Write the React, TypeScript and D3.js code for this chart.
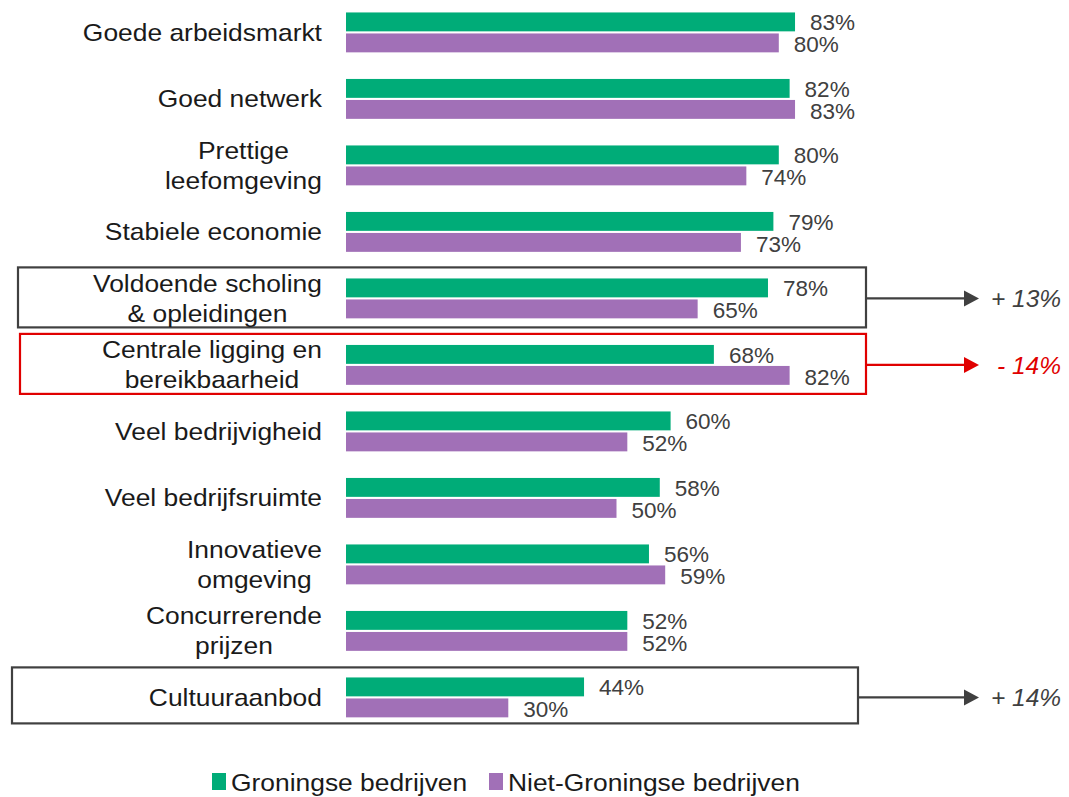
import React, { useEffect, useRef } from "react";
import * as d3 from "d3";

const categories: string[][] = [
  ["Goede arbeidsmarkt"],
  ["Goed netwerk"],
  ["Prettige", "leefomgeving"],
  ["Stabiele economie"],
  ["Voldoende scholing", "& opleidingen"],
  ["Centrale ligging en", "bereikbaarheid"],
  ["Veel bedrijvigheid"],
  ["Veel bedrijfsruimte"],
  ["Innovatieve", "omgeving"],
  ["Concurrerende", "prijzen"],
  ["Cultuuraanbod"],
];
const groningen = [83, 82, 80, 79, 78, 68, 60, 58, 56, 52, 44];
const nietGroningen = [80, 83, 74, 73, 65, 82, 52, 50, 59, 52, 30];
const seriesNames = ["Groningse bedrijven", "Niet-Groningse bedrijven"];
const seriesColors = ["#00AC78", "#A170B7"];

// highlighted boxes: category index, difference label
const highlights = [
  { idx: 4, label: "+ 13%", color: "#404040", x0: 18, x1: 866 },
  { idx: 5, label: "- 14%", color: "#E00000", x0: 20, x1: 866 },
  { idx: 10, label: "+ 14%", color: "#404040", x0: 12, x1: 858 },
];

const FONT = "Liberation Sans, Arial, sans-serif";
const STRETCH = 1.1;

export default function App() {
  const ref = useRef<SVGSVGElement>(null);
  useEffect(() => {
    const svg = d3.select(ref.current);
    svg.selectAll("*").remove();
    const keys = categories.map((_, i) => String(i));
    const y = d3
      .scaleBand<string>()
      .domain(keys)
      .range([-7.5, 737.3])
      .paddingInner(0.4)
      .paddingOuter(0.3);
    const sub = d3
      .scaleBand<string>()
      .domain(["g", "n"])
      .range([0, y.bandwidth()])
      .paddingInner(0.1);
    const x = d3.scaleLinear().domain([0, 100]).range([346, 887]);

    const data = categories.map((c, i) => ({
      key: String(i),
      lines: c,
      g: groningen[i],
      n: nietGroningen[i],
    }));

    // boxes
    highlights.forEach((h) => {
      const cy = (y(String(h.idx)) as number) + y.bandwidth() / 2;
      const top = h.idx === 10 ? cy - 30 : cy - 31;
      const hgt = h.idx === 10 ? 56 : 60;
      svg
        .append("rect")
        .attr("x", h.x0)
        .attr("y", top)
        .attr("width", h.x1 - h.x0)
        .attr("height", hgt)
        .attr("fill", "none")
        .attr("stroke", h.color)
        .attr("stroke-width", 2.2);
      svg
        .append("line")
        .attr("x1", h.x1)
        .attr("x2", 968)
        .attr("y1", cy)
        .attr("y2", cy)
        .attr("stroke", h.color)
        .attr("stroke-width", 2.2);
      svg
        .append("path")
        .attr("d", `M964,${cy - 8}L979,${cy}L964,${cy + 8}Z`)
        .attr("fill", h.color);
      svg
        .append("text")
        .attr("x", h.label.startsWith("-") ? 997 : 991)
        .attr("y", cy + 9)
        .attr("font-family", FONT)
        .attr("font-size", 24.5)
        .attr("font-style", "italic")
        .attr("fill", h.color)
        .text(h.label);
    });

    const g = svg.selectAll("g.cat").data(data).join("g").attr("class", "cat")
      .attr("transform", (d) => `translate(0,${y(d.key)})`);

    g.append("rect")
      .attr("x", x(0))
      .attr("y", sub("g") as number)
      .attr("width", (d) => x(d.g) - x(0))
      .attr("height", sub.bandwidth())
      .attr("fill", seriesColors[0]);
    g.append("rect")
      .attr("x", x(0))
      .attr("y", sub("n") as number)
      .attr("width", (d) => x(d.n) - x(0))
      .attr("height", sub.bandwidth())
      .attr("fill", seriesColors[1]);

    g.append("text")
      .attr("x", (d) => x(d.g) + 15)
      .attr("y", (sub("g") as number) + sub.bandwidth() - 1)
      .attr("font-family", FONT)
      .attr("font-size", 22.5)
      .attr("fill", "#404040")
      .text((d) => `${d.g}%`);
    g.append("text")
      .attr("x", (d) => x(d.n) + 15)
      .attr("y", (sub("n") as number) + sub.bandwidth())
      .attr("font-family", FONT)
      .attr("font-size", 22.5)
      .attr("fill", "#404040")
      .text((d) => `${d.n}%`);

    // category labels (multi-line centered, right-aligned block)
    g.each(function (d) {
      const grp = d3.select(this);
      const cy = y.bandwidth() / 2;
      const lh = 30;
      const texts = d.lines.map((line, li) =>
        grp
          .append("text")
          .attr("dy", "0.35em")
          .attr("font-family", FONT)
          .attr("font-size", 24)
          .attr("fill", "#1a1a1a")
          .attr("text-anchor", "middle")
          .attr("data-y", cy + (li - (d.lines.length - 1) / 2) * lh)
          .text(line)
      );
      const widths = texts.map(
        (t) => (t.node() as SVGTextElement).getComputedTextLength() * STRETCH
      );
      const maxW = Math.max(...widths);
      texts.forEach((t) =>
        t.attr(
          "transform",
          `translate(${322 - maxW / 2},${t.attr("data-y")}) scale(${STRETCH},1)`
        )
      );
    });

    // legend
    const legend = svg.append("g");
    const lx = [212, 489];
    seriesNames.forEach((s, i) => {
      legend
        .append("rect")
        .attr("x", lx[i])
        .attr("y", 773)
        .attr("width", 14)
        .attr("height", 17)
        .attr("fill", seriesColors[i]);
      legend
        .append("text")
        .attr("transform", `translate(${lx[i] + 19},791) scale(${STRETCH},1)`)
        .attr("font-family", FONT)
        .attr("font-size", 24)
        .attr("fill", "#1a1a1a")
        .text(s);
    });
  }, []);
  return (
    <svg
      ref={ref}
      width={1069}
      height={797}
      style={{ position: "absolute", left: 0, top: 0, background: "#fff" }}
    />
  );
}
